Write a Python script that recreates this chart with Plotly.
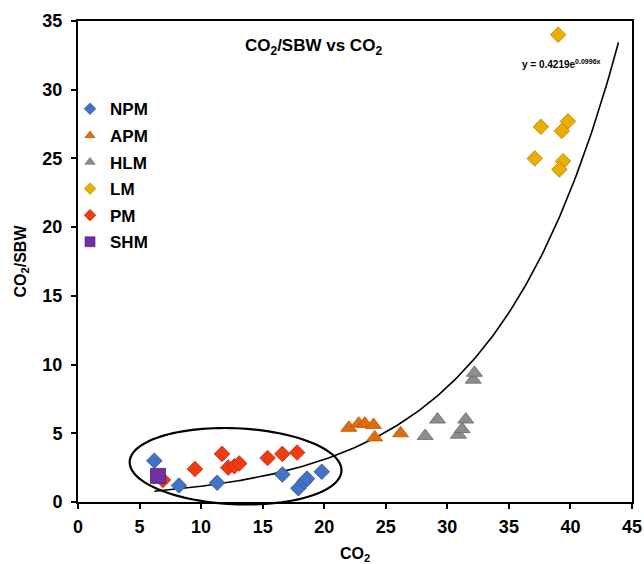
import numpy as np
import plotly.graph_objects as go

# Measured groups: CO2 (x) against CO2/SBW (y)
npm_x = [6.2, 8.2, 11.3, 16.6, 17.9, 18.4, 18.6, 19.8]
npm_y = [3.0, 1.2, 1.4, 2.0, 1.0, 1.5, 1.7, 2.2]

apm_x = [22.0, 22.8, 23.3, 24.0, 24.1, 26.2]
apm_y = [5.4, 5.7, 5.7, 5.6, 4.7, 5.0]

hlm_x = [28.2, 29.2, 30.9, 31.2, 31.5, 32.1, 32.2]
hlm_y = [4.8, 6.0, 4.9, 5.3, 6.0, 8.9, 9.4]

lm_x = [39.0, 37.6, 39.8, 39.3, 37.1, 39.4, 39.1]
lm_y = [34.0, 27.3, 27.7, 27.0, 25.0, 24.8, 24.2]

pm_x = [6.9, 9.5, 11.7, 12.2, 12.7, 13.1, 15.4, 16.6, 17.8]
pm_y = [1.6, 2.4, 3.5, 2.5, 2.6, 2.8, 3.2, 3.5, 3.6]

shm_x = [6.5]
shm_y = [1.9]

# Exponential fit y = a * exp(b x)
fit_a = 0.4219
fit_b = 0.0996
fit_x0, fit_x1 = 6.2, 43.9

X_MAX, Y_MAX = 45, 35

groups = [
    ("NPM", npm_x, npm_y, "diamond", 12, "#4472C4", "#2F5597"),
    ("APM", apm_x, apm_y, "triangle-up", 14, "#E36C0A", "#B85407"),
    ("HLM", hlm_x, hlm_y, "triangle-up", 14, "#8C8C8C", "#6A6A6A"),
    ("LM", lm_x, lm_y, "diamond", 12, "#E8AE00", "#B58600"),
    ("PM", pm_x, pm_y, "diamond", 12, "#EE3B12", "#C22A0A"),
    ("SHM", shm_x, shm_y, "square", 15, "#7030A0", "#4F1F75"),
]

fig = go.Figure()

fx = np.linspace(fit_x0, fit_x1, 200)
fig.add_trace(go.Scatter(
    x=fx, y=fit_a * np.exp(fit_b * fx), mode="lines",
    line=dict(color="black", width=1.6), showlegend=False, hoverinfo="skip"))

for name, xs, ys, sym, size, fill, edge in groups:
    fig.add_trace(go.Scatter(
        x=xs, y=ys, mode="markers", name=name, showlegend=False,
        legendgroup=name,
        marker=dict(symbol=sym, size=size, color=fill,
                    line=dict(color=edge, width=0.8))))

# small legend keys
for name, xs, ys, sym, size, fill, edge in groups:
    key_size = 9 if sym != "square" else 10
    fig.add_trace(go.Scatter(
        x=[None], y=[None], mode="markers", name=f"<b>{name}</b>",
        legendgroup=name,
        marker=dict(symbol=sym, size=key_size, color=fill,
                    line=dict(color=edge, width=0.6))))

# ellipse outlining the low-CO2 cluster (paper coordinates so it is not clipped)
t = np.linspace(0, 2 * np.pi, 120)
cx, cy = 12.8, 2.6          # centre in data units
ax_px, ay_px, tilt = 106, 38, np.deg2rad(-2.5)
px_per_x = 554 / X_MAX
px_per_y = 481 / Y_MAX
ex = ax_px * np.cos(t) * np.cos(tilt) - ay_px * np.sin(t) * np.sin(tilt)
ey = ax_px * np.cos(t) * np.sin(tilt) + ay_px * np.sin(t) * np.cos(tilt)
ux = (cx + ex / px_per_x) / X_MAX
uy = (cy + ey / px_per_y) / Y_MAX
path = "M " + " L ".join(f"{a:.5f},{b:.5f}" for a, b in zip(ux, uy)) + " Z"
fig.add_shape(type="path", path=path, xref="paper", yref="paper",
              line=dict(color="black", width=2.2))

bold = dict(family="Liberation Sans, Arial, sans-serif", color="black")

fig.add_annotation(
    x=19.1, y=33.1, xref="x", yref="y", showarrow=False,
    text="<b>CO<sub>2</sub>/SBW vs CO<sub>2</sub></b>",
    font=dict(size=17, **bold))
fig.add_annotation(
    x=39.3, y=31.9, xref="x", yref="y", showarrow=False,
    text="<b>y = 0.4219e<sup>0.0996x</sup></b>",
    font=dict(size=10, **bold))

fig.update_layout(
    width=644, height=564,
    margin=dict(l=78, r=12, t=21, b=62, autoexpand=False),
    plot_bgcolor="white", paper_bgcolor="white",
    font=dict(size=16, **bold),
    legend=dict(x=-0.0144, y=0.854, xanchor="left", yanchor="top",
                bgcolor="rgba(0,0,0,0)", font=dict(size=17, **bold),
                tracegroupgap=1.5, traceorder="grouped", itemwidth=30),
    xaxis=dict(range=[0, X_MAX], dtick=5, showgrid=False, zeroline=False,
               showline=True, linecolor="black", linewidth=2, mirror=True,
               ticks="outside", ticklen=5, tickwidth=1.5, tickcolor="black",
               ticklabelstandoff=2, automargin=False,
               tickfont=dict(size=18, **bold), tickprefix="<b>", ticksuffix="</b>",
               title=dict(text="<b>CO<sub>2</sub></b>", font=dict(size=16, **bold),
                          standoff=16)),
    yaxis=dict(range=[0, Y_MAX], dtick=5, showgrid=False, zeroline=False,
               showline=True, linecolor="black", linewidth=2, mirror=True,
               ticks="outside", ticklen=5, tickwidth=1.5, tickcolor="black",
               ticklabelstandoff=5, automargin=False,
               tickfont=dict(size=18, **bold), tickprefix="<b>", ticksuffix="</b>",
               title=dict(text="<b>CO<sub>2</sub>/SBW</b>", font=dict(size=16, **bold),
                          standoff=12)),
)

fig.write_html("out.html")
